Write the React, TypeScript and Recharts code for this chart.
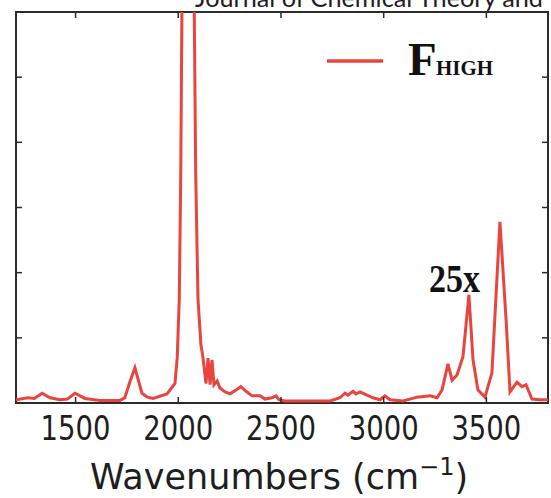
import React from 'react';
import { LineChart, Line, XAxis, YAxis, Customized } from 'recharts';

const wavenumbers = [
  1210, 1268, 1300, 1337, 1376, 1424, 1460, 1497, 1546, 1619, 1716, 1740, 1765, 1789, 1810, 1823,
  1850, 1877, 1945, 1984, 1995, 2005, 2012, 2020, 2040, 2060, 2075, 2085, 2096, 2110, 2120, 2135,
  2145, 2155, 2164, 2174, 2189, 2203, 2228, 2252, 2281, 2305, 2330, 2359, 2398, 2422, 2456, 2476,
  2490, 2520, 2739, 2787, 2812, 2826, 2851, 2865, 2885, 2919, 2948, 2982, 3006, 3031, 3094, 3162,
  3226, 3260, 3284, 3313, 3333, 3357, 3386, 3415, 3435, 3459, 3493, 3527, 3566, 3596, 3615, 3649,
  3673, 3693, 3722, 3761, 3800,
];
const intensity = [
  0.05, 0.08, 0.07, 0.15, 0.08, 0.05, 0.06, 0.15, 0.07, 0.04, 0.04, 0.08, 0.33, 0.54, 0.3, 0.15,
  0.09, 0.07, 0.14, 0.3, 0.7, 1.6, 3.5, 7, 18, 16, 7, 3.5, 1.6, 0.9, 0.7, 0.3,
  0.69, 0.28, 0.66, 0.28, 0.34, 0.23, 0.17, 0.14, 0.2, 0.25, 0.18, 0.11, 0.11, 0.06, 0.08, 0.11,
  0.05, 0.03, 0.03, 0.08, 0.15, 0.12, 0.18, 0.14, 0.17, 0.12, 0.08, 0.05, 0.11, 0.05, 0.03, 0.09,
  0.11, 0.08, 0.2, 0.6, 0.35, 0.43, 0.71, 1.66, 0.66, 0.2, 0.09, 0.46, 2.78, 1.27, 0.17, 0.32,
  0.25, 0.28, 0.06, 0.05, 0.05,
];
const xTicks = [1500, 2000, 2500, 3000, 3500];
const yTicks = [1, 2, 3, 4, 5];
const xDomain = [1210, 3800];
const yDomain = [0, 6];
const legendMain = 'F';
const legendSub = 'HIGH';
const annotation = '25x';
const xLabelMain = 'Wavenumbers (cm';
const xLabelSup = '\u22121';
const headerText = 'Journal of Chemical Theory and';

const data = wavenumbers.map((w, i) => ({ w, v: intensity[i] }));

const FRAME = '#2b2b2b';
const RED = '#e8453f';
const CHART_W = 551;
const CHART_H = 498;
const MARGIN = { top: 11, right: 3, bottom: 0, left: 15 };
const Y_AXIS_W = 1;
const TOP_AXIS_H = 1;
const BOTTOM_AXIS_H = 95;
const PLOT_X = MARGIN.left + Y_AXIS_W;
const PLOT_Y = MARGIN.top + TOP_AXIS_H;
const PLOT_W = CHART_W - MARGIN.left - MARGIN.right - Y_AXIS_W;
const PLOT_H = CHART_H - MARGIN.top - MARGIN.bottom - TOP_AXIS_H - BOTTOM_AXIS_H;
const TICK_LEN = 6;

const sx = (t: number) => PLOT_X + ((t - xDomain[0]) / (xDomain[1] - xDomain[0])) * PLOT_W;
const sy = (t: number) => PLOT_Y + PLOT_H - ((t - yDomain[0]) / (yDomain[1] - yDomain[0])) * PLOT_H;

const BottomTick = (props: any) => {
  const { x, y, payload } = props;
  return (
    <g>
      <line x1={x} x2={x} y1={y} y2={y - TICK_LEN} stroke={FRAME} strokeWidth={1.5} />
      <text
        x={x}
        y={y + 37}
        textAnchor="middle"
        fontFamily="DejaVu Sans"
        fontSize={34}
        textLength={70}
        lengthAdjust="spacingAndGlyphs"
        fill="#1e1e1e"
      >
        {payload.value}
      </text>
    </g>
  );
};

const LeftTick = (props: any) => {
  const { x, y } = props;
  return <line x1={x} x2={x + TICK_LEN} y1={y} y2={y} stroke={FRAME} strokeWidth={1.5} />;
};

const Overlay = () => (
  <g>
    <rect x={PLOT_X} y={PLOT_Y} width={PLOT_W} height={PLOT_H} fill="none" stroke={FRAME} strokeWidth={2} />
    {xTicks.map((t) => (
      <line key={`t${t}`} x1={sx(t)} x2={sx(t)} y1={PLOT_Y} y2={PLOT_Y + TICK_LEN} stroke={FRAME} strokeWidth={1.5} />
    ))}
    {yTicks.map((t) => (
      <line
        key={`r${t}`}
        x1={PLOT_X + PLOT_W}
        x2={PLOT_X + PLOT_W - TICK_LEN}
        y1={sy(t)}
        y2={sy(t)}
        stroke={FRAME}
        strokeWidth={1.5}
      />
    ))}
    <text
      x={195}
      y={7}
      fontFamily="Lato"
      fontSize={25}
      textLength={348}
      lengthAdjust="spacingAndGlyphs"
      fill="#1e1e1e"
    >
      {headerText}
    </text>
    <line x1={327} x2={383} y1={61} y2={61} stroke={RED} strokeWidth={3.5} />
    <text x={408} y={75} fontFamily="Liberation Serif" fontWeight="bold" fontSize={47} fill="#111">
      {legendMain}
    </text>
    <text
      x={436}
      y={75}
      fontFamily="Liberation Serif"
      fontWeight="bold"
      fontSize={20}
      textLength={57}
      lengthAdjust="spacingAndGlyphs"
      fill="#111"
    >
      {legendSub}
    </text>
    <text
      x={429}
      y={292}
      fontFamily="Liberation Serif"
      fontWeight="bold"
      fontSize={39}
      textLength={51}
      lengthAdjust="spacingAndGlyphs"
      fill="#111"
    >
      {annotation}
    </text>
    <text x={90} y={489} fontFamily="DejaVu Sans" fontSize={35} fill="#1e1e1e">
      {xLabelMain}
      <tspan fontSize={24} dy={-14}>{xLabelSup}</tspan>
      <tspan dy={14}>)</tspan>
    </text>
  </g>
);

export default function App() {
  return (
    <div style={{ position: 'absolute', left: 0, top: 0 }}>
      <LineChart width={CHART_W} height={CHART_H} data={data} margin={MARGIN}>
        <XAxis
          dataKey="w"
          type="number"
          domain={xDomain}
          ticks={xTicks}
          allowDataOverflow
          height={BOTTOM_AXIS_H}
          tickSize={0}
          tickMargin={0}
          tickLine={false}
          axisLine={false}
          tick={<BottomTick />}
        />
        <XAxis
          xAxisId="top"
          orientation="top"
          dataKey="w"
          type="number"
          domain={xDomain}
          allowDataOverflow
          height={TOP_AXIS_H}
          tickLine={false}
          axisLine={false}
          tick={false}
        />
        <YAxis
          type="number"
          domain={yDomain}
          ticks={yTicks}
          allowDataOverflow
          width={Y_AXIS_W}
          tickSize={0}
          tickMargin={0}
          tickLine={false}
          axisLine={false}
          tick={<LeftTick />}
        />
        <Line type="linear" dataKey="v" stroke={RED} strokeWidth={3} dot={false} isAnimationActive={false} />
        <Customized component={Overlay} />
      </LineChart>
    </div>
  );
}
